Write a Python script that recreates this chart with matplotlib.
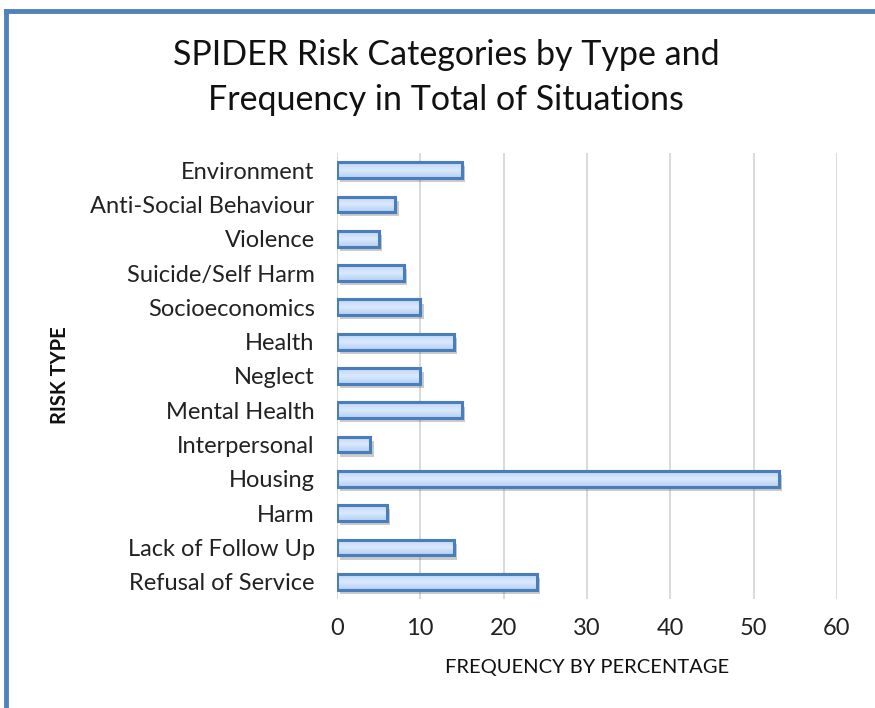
import matplotlib
matplotlib.use("Agg")
import matplotlib.pyplot as plt
import matplotlib.patheffects as pe
from matplotlib.patches import Rectangle
import numpy as np

plt.rcParams['font.family'] = ['Lato', 'DejaVu Sans']

categories = ['Environment', 'Anti-Social Behaviour', 'Violence', 'Suicide/Self Harm',
              'Socioeconomics', 'Health', 'Neglect', 'Mental Health', 'Interpersonal',
              'Housing', 'Harm', 'Lack of Follow Up', 'Refusal of Service']
values = [15, 7, 5, 8, 10, 14, 10, 15, 4, 53, 6, 14, 24]
xticks = [0, 10, 20, 30, 40, 50, 60]

fig = plt.figure(figsize=(8.75, 7.08), dpi=100)
ax = fig.add_axes([0.385, 0.154, 0.5715, 0.63])

# reversed so the first category sits at the top
ypos = np.arange(len(categories))[::-1]
bar_h = 0.46
bars = ax.barh(ypos, values, height=bar_h, color='#c6dbf7', edgecolor='#4a7ebb',
               linewidth=2.2, zorder=3)

# soft vertical gradient inside each bar plus a drop shadow
grad = np.linspace(0, 1, 64).reshape(-1, 1)
cmap = matplotlib.colors.LinearSegmentedColormap.from_list(
    'barfill', ['#b3cff5', '#dbe9fc', '#bcd5f6'])
for b in bars:
    x0, y0 = b.get_x(), b.get_y()
    w, h = b.get_width(), b.get_height()
    im = ax.imshow(grad, extent=[x0, x0 + w, y0, y0 + h], aspect='auto',
                   cmap=cmap, zorder=3.5, origin='lower')
    im.set_clip_path(b)
    b.set_path_effects([pe.SimplePatchShadow(offset=(2.5, -3), alpha=0.3,
                                             shadow_rgbFace='#555555'),
                        pe.Normal()])
    edge = Rectangle((x0, y0), w, h, fill=False, edgecolor='#4a7ebb',
                     linewidth=2.2, zorder=4)
    ax.add_patch(edge)

ax.set_xlim(0, 60)
ax.set_ylim(-0.5, len(categories) - 0.5)
ax.set_xticks(xticks)
ax.set_yticks(ypos)
ax.set_yticklabels(categories)
ax.tick_params(axis='both', length=0, labelsize=17, colors='#222222')
ax.tick_params(axis='y', pad=16)
ax.tick_params(axis='x', pad=14)
ax.grid(axis='x', color='#d9d9d9', linewidth=1.4, zorder=0)
for s in ax.spines.values():
    s.set_visible(False)

ax.set_xlabel('FREQUENCY BY PERCENTAGE', fontsize=14.5, labelpad=14, color='#111111')
fig.text(0.069, 0.47, 'RISK TYPE', rotation=90, fontsize=14.5, fontweight='bold',
         ha='center', va='center', color='#111111')

fig.text(0.51, 0.922, 'SPIDER Risk Categories by Type and', fontsize=24.5,
         ha='center', va='center', color='#111111')
fig.text(0.51, 0.859, 'Frequency in Total of Situations', fontsize=24.5,
         ha='center', va='center', color='#111111')

# blue frame along the top and left edges
fig.add_artist(plt.Line2D([0.0074, 1.0], [0.984, 0.984], color='#4f81bd',
                          linewidth=3.5, transform=fig.transFigure))
fig.add_artist(plt.Line2D([0.0074, 0.0074], [0.0, 0.984], color='#4f81bd',
                          linewidth=3.5, transform=fig.transFigure))

fig.savefig('out.png', dpi=100)
